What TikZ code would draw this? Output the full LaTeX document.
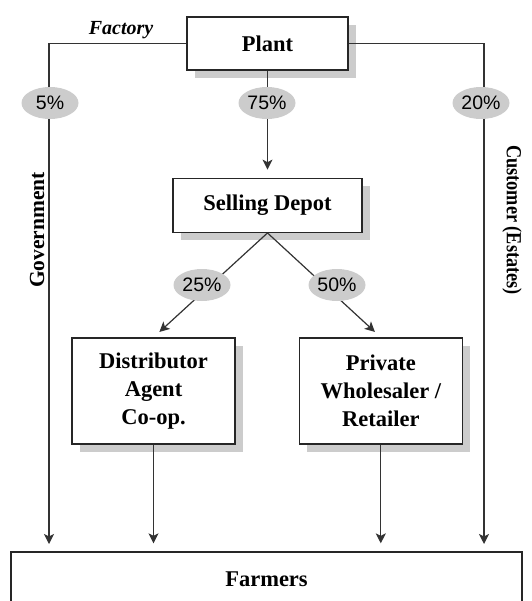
\documentclass[tikz,border=0pt]{standalone}
\usepackage{fontspec}
\setmainfont{Liberation Serif}
\setsansfont{Liberation Sans}
\usetikzlibrary{arrows.meta,shapes.geometric,shadows,positioning}

\begin{document}
\begin{tikzpicture}
   [x=1pt,y=-1pt,
    box/.style={rectangle,draw=black!85,line width=1.3pt,fill=white,
      font=\fontsize{22.5}{28}\selectfont\bfseries,align=center},
    sbox/.style={drop shadow={shadow xshift=8pt,shadow yshift=-8pt,fill=black!20,opacity=1}},
    pct/.style={ellipse,fill=black!20,minimum width=57pt,minimum height=32pt,inner sep=0pt,
      font=\sffamily\fontsize{19.5}{20}\selectfont},
    flow/.style={black!80,line width=1.2pt},
    tip/.style={-{Stealth[length=10pt,width=10pt,inset=2.5pt]},shorten >=8pt},
    side/.style={font=\fontsize{21.5}{24}\selectfont\bfseries}]

\useasboundingbox (0,0) rectangle (531,601);

\node [box,sbox,minimum width=161pt,minimum height=53pt] (plant) at (267.5,43.5) {Plant};
\node [box,sbox,minimum width=189pt,minimum height=54pt,below=107pt of plant.south,anchor=north] (depot) {Selling Depot};
\node [box,sbox,minimum width=163pt,minimum height=106pt] (dist) at (153.5,391) {Distributor\\Agent\\Co-op.};
\node [box,sbox,minimum width=163pt,minimum height=106pt,right=63pt of dist] (priv) {Private\\Wholesaler /\\Retailer};
\node [box,minimum width=511pt,minimum height=54pt] (farmers) at (266.5,579) {Farmers};

\coordinate (gov) at (49,552);
\coordinate (cust) at (484,552);

\draw [flow,tip] (plant.west) -| (gov);
\draw [flow,tip] (plant.east) -| (cust);
\draw [flow,tip] (plant.south) -- (plant.south |- depot.north);
\draw [flow,tip] (depot.south) -- (dist.north);
\draw [flow,tip] (depot.south) -- (priv.north);
\draw [flow,tip] (dist.south) -- (dist.south |- farmers.north);
\draw [flow,tip] (priv.south) -- (priv.south |- farmers.north);

\node [pct] (p5) at (50,103) {5\%};
\node [pct] (p75) at (267,103) {75\%};
\node [pct] (p20) at (481,103) {20\%};
\node [pct] (p25) at (202,285) {25\%};
\node [pct] (p50) at (337,285) {50\%};

\node [font=\fontsize{20}{22}\selectfont\bfseries\itshape] (factory) at (121,30) {Factory};
\node [side,rotate=90] (govlbl) at (37,230) {Government};
\node [side,rotate=-90] (custlbl) at (512,220) {\scalebox{0.85}[1]{Customer (Estates)}};
\end{tikzpicture}
\end{document}
